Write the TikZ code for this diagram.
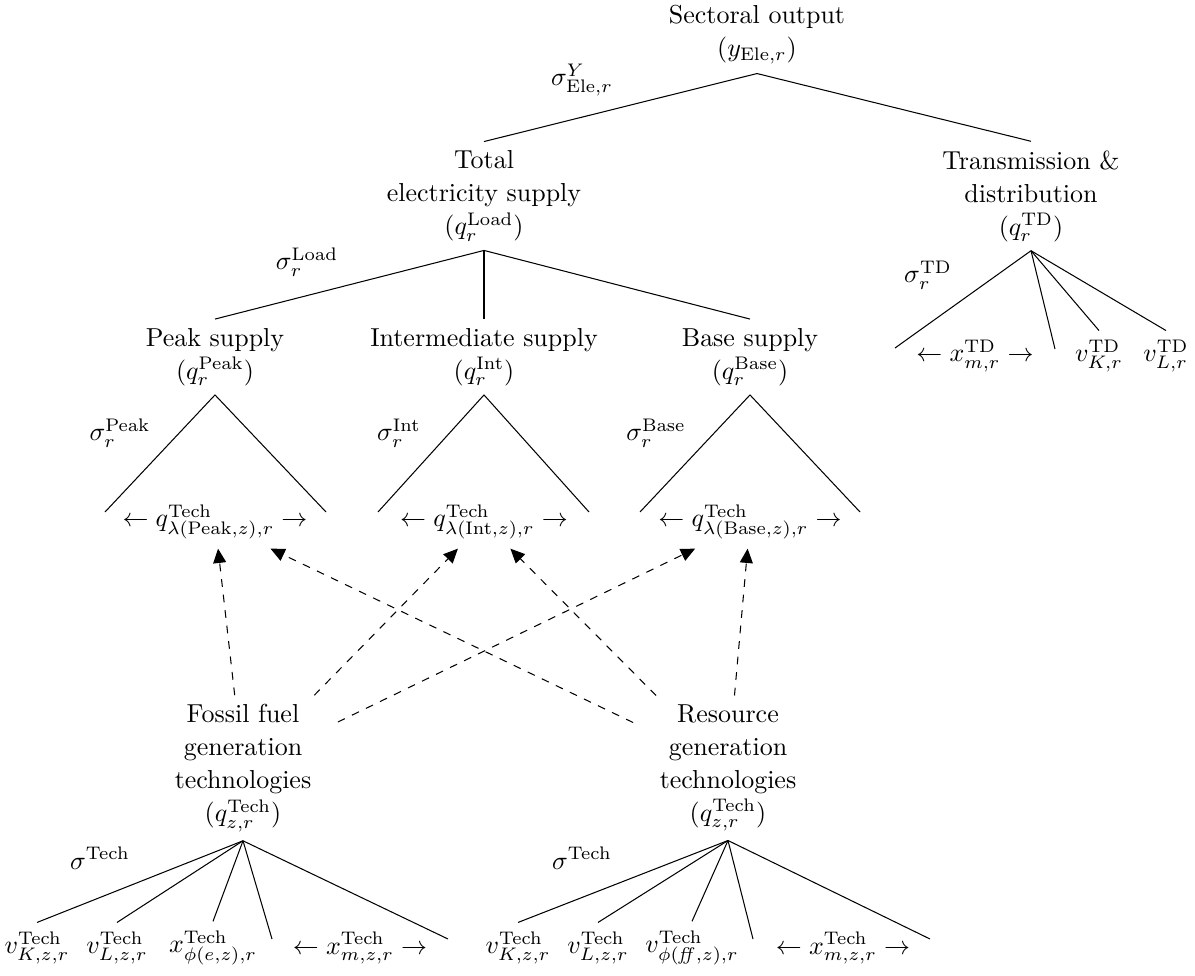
\documentclass[tikz,border=0pt]{standalone}
\usetikzlibrary{arrows.meta}

\begin{document}
\begin{tikzpicture}[x=0.385pt, y=-0.385pt,
    lbl/.style={align=center, font=\fontsize{10}{12.7}\selectfont},
    tech/.style={lbl, text width=66pt},
    link/.style={dashed, -{Triangle[length=5.5pt, width=5pt]}}]
    \useasboundingbox (0,0) rectangle (1195,976);

    % ノードを置く
    \node[lbl] (out) at (757, 35) {Sectoral output\\$(y_{\mathrm{Ele},r})$};
    \node[lbl] (load) at (484, 196) {Total\\electricity supply\\$(q_r^{\mathrm{Load}})$};
    \node[lbl] (td) at (1031, 196) {Transmission \&\\distribution\\$(q_r^{\mathrm{TD}})$};
    \node[lbl] (peak) at (215, 357) {Peak supply\\$(q_r^{\mathrm{Peak}})$};
    \node[lbl] (int) at (484, 357) {Intermediate supply\\$(q_r^{\mathrm{Int}})$};
    \node[lbl] (base) at (750, 357) {Base supply\\$(q_r^{\mathrm{Base}})$};

    \node (qpeak) at (215, 522) {$\leftarrow q^{\mathrm{Tech}}_{\lambda(\mathrm{Peak},z),r} \rightarrow$};
    \node (qint) at (484, 522) {$\leftarrow q^{\mathrm{Tech}}_{\lambda(\mathrm{Int},z),r} \rightarrow$};
    \node (qbase) at (750, 522) {$\leftarrow q^{\mathrm{Tech}}_{\lambda(\mathrm{Base},z),r} \rightarrow$};

    \node (tdM) at (975, 356) {$\leftarrow x^{\mathrm{TD}}_{m,r} \rightarrow$};
    \node (tdK) at (1099, 356) {$v^{\mathrm{TD}}_{K,r}$};
    \node (tdL) at (1166, 356) {$v^{\mathrm{TD}}_{L,r}$};

    \node[tech] (fossil) at (243, 768) {Fossil fuel\\generation\\technologies\\$(q^{\mathrm{Tech}}_{z,r})$};
    \node[tech] (res) at (728, 768) {Resource\\generation\\technologies\\$(q^{\mathrm{Tech}}_{z,r})$};

    \node (fK) at (37, 948) {$v^{\mathrm{Tech}}_{K,z,r}$};
    \node (fL) at (117, 948) {$v^{\mathrm{Tech}}_{L,z,r}$};
    \node (fE) at (213, 948) {$x^{\mathrm{Tech}}_{\phi(e,z),r}$};
    \node (fM) at (360, 948) {$\leftarrow x^{\mathrm{Tech}}_{m,z,r} \rightarrow$};
    \node (rK) at (518, 948) {$v^{\mathrm{Tech}}_{K,z,r}$};
    \node (rL) at (598, 948) {$v^{\mathrm{Tech}}_{L,z,r}$};
    \node (rF) at (692, 948) {$v^{\mathrm{Tech}}_{\phi(\mathit{ff},z),r}$};
    \node (rM) at (843, 948) {$\leftarrow x^{\mathrm{Tech}}_{m,z,r} \rightarrow$};

    % 代替の弾力性
    \node (sY) at (582, 80) {$\sigma^{Y}_{\mathrm{Ele},r}$};
    \node (sLoad) at (307, 262) {$\sigma_r^{\mathrm{Load}}$};
    \node (sTD) at (928, 275) {$\sigma_r^{\mathrm{TD}}$};
    \node (sPeak) at (120, 433) {$\sigma_r^{\mathrm{Peak}}$};
    \node (sInt) at (399, 433) {$\sigma_r^{\mathrm{Int}}$};
    \node (sBase) at (656, 433) {$\sigma_r^{\mathrm{Base}}$};
    \node (sF) at (100, 858) {$\sigma^{\mathrm{Tech}}$};
    \node (sR) at (582, 858) {$\sigma^{\mathrm{Tech}}$};

    % 枝の端
    \coordinate (pA) at (105, 512);
    \coordinate (pB) at (326, 512);
    \coordinate (iA) at (378, 512);
    \coordinate (iB) at (589, 512);
    \coordinate (bA) at (640, 512);
    \coordinate (bB) at (860, 512);
    \coordinate (tA) at (895, 348);
    \coordinate (tB) at (1055, 349);
    \coordinate (fA) at (272, 939);
    \coordinate (fB) at (448, 939);
    \coordinate (rA) at (753, 939);
    \coordinate (rB) at (930, 939);

    % エッジを引く
    \draw (out.south) -- (load.north);
    \draw (out.south) -- (td.north);
    \draw (load.south) -- (peak.north);
    \draw (load.south) -- (int.north);
    \draw (load.south) -- (base.north);
    \draw (td.south) -- (tA);
    \draw (td.south) -- (tB);
    \draw (td.south) -- (tdK.north);
    \draw (td.south) -- (tdL.north);
    \draw (peak.south) -- (pA);
    \draw (peak.south) -- (pB);
    \draw (int.south) -- (iA);
    \draw (int.south) -- (iB);
    \draw (base.south) -- (bA);
    \draw (base.south) -- (bB);
    \draw (fossil.south) -- (fK.north);
    \draw (fossil.south) -- (fL.north);
    \draw (fossil.south) -- (fE.north);
    \draw (fossil.south) -- (fA);
    \draw (fossil.south) -- (fB);
    \draw (res.south) -- (rK.north);
    \draw (res.south) -- (rL.north);
    \draw (res.south) -- (rF.north);
    \draw (res.south) -- (rA);
    \draw (res.south) -- (rB);

    % 技術から負荷へ
    \draw[link] (fossil) -- (qpeak);
    \draw[link] (fossil) -- (qint);
    \draw[link] (fossil) -- (qbase);
    \draw[link] (res) -- (qpeak);
    \draw[link] (res) -- (qint);
    \draw[link] (res) -- (qbase);
\end{tikzpicture}
\end{document}
